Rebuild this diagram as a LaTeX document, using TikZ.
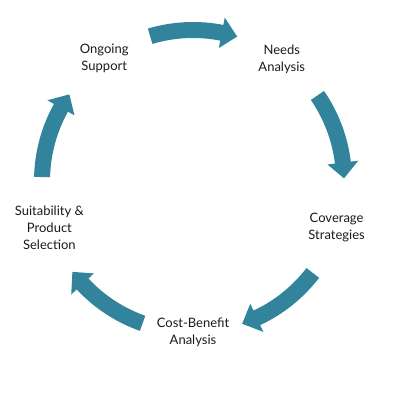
\documentclass[tikz,border=0pt]{standalone}
\usepackage{fontspec}
\setmainfont{Lato}
\usetikzlibrary{calc}
\definecolor{arrowteal}{HTML}{31849B}
\definecolor{labeltext}{HTML}{1A1A1A}
\tikzset{
  lbl/.style={align=center, font=\fontsize{13}{17}\selectfont, text=labeltext, inner sep=1pt},
  blockarrow/.style={fill=arrowteal, draw=none}
}
\begin{document}
\begin{tikzpicture}[x=1pt,y=1pt]
\useasboundingbox (0,0) rectangle (404,400);
\coordinate (C) at (193,219);
\def\R{151}
\def\w{8}
\def\h{15.5}
% labels
\node[lbl] (needs) at ([shift={(54:151)}]C) {Needs\\Analysis};
\node[lbl] (cov) at ([shift={(-18:151)}]C) {Coverage\\Strategies};
\node[lbl] (cost) at ([shift={(-90:151)}]C) {Cost-Benefit\\Analysis};
\node[lbl] (suit) at ([shift={(198:151)}]C) {Suitability \&\\Product\\Selection};
\node[lbl] (ongo) at ([shift={(126:151)}]C) {Ongoing\\Support};
% arrows
\foreach \c in {90,18,-54,-126,162}{
  \pgfmathsetmacro\s{\c+16.5}
  \pgfmathsetmacro\b{\c-11}
  \pgfmathsetmacro\t{\c-17}
  \pgfmathsetmacro\ro{\R+\w}
  \pgfmathsetmacro\ri{\R-\w}
  \pgfmathsetmacro\ho{\R+\h}
  \pgfmathsetmacro\hi{\R-\h}
  \fill[blockarrow] ([shift={(\s:\ro)}]C) arc[start angle=\s, end angle=\b, radius=\ro]
    -- ([shift={(\b:\ho)}]C) -- ([shift={(\t:\R)}]C) -- ([shift={(\b:\hi)}]C)
    -- ([shift={(\b:\ri)}]C) arc[start angle=\b, end angle=\s, radius=\ri] -- cycle;
}
\end{tikzpicture}
\end{document}
